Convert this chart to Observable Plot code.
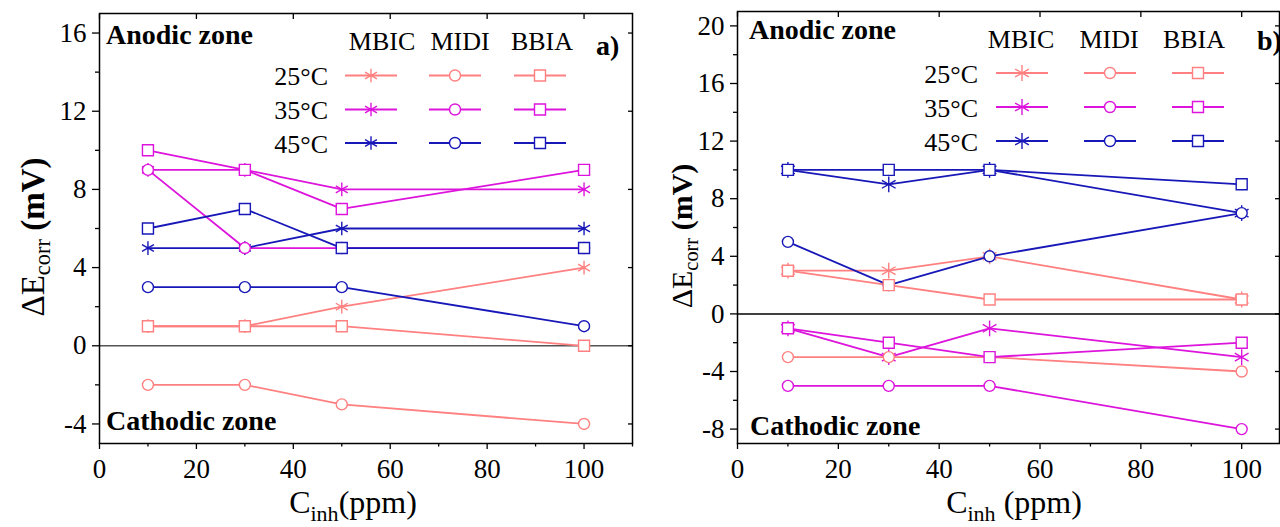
<!DOCTYPE html>
<html><head><meta charset="utf-8">
<script src="https://cdn.jsdelivr.net/npm/d3@7"></script>
<script src="https://cdn.jsdelivr.net/npm/@observablehq/plot@0.6"></script>
<style>
html,body{margin:0;padding:0;background:#fff;}
#wrap{display:flex;width:1280px;height:527px;overflow:hidden;}
#wrap > div{width:640px;height:527px;position:relative;overflow:hidden;}
</style></head><body><div id="wrap"><div id="pa"></div><div id="pb"></div></div>
<script>
// ---- data ----
const conc = [10, 30, 50, 100];
const temps = ["25°C", "35°C", "45°C"];
const inhibitors = ["MBIC", "MIDI", "BBIA"];
const tempColors = ["#ff8080", "#dc14dc", "#1818b8"];
const inhSymbols = ["asterisk", "circle", "square"];

// panel a)
const a25_MBIC = [1, 1, 2, 4];
const a25_MIDI = [-2, -2, -3, -4];
const a25_BBIA = [1, 1, 1, 0];
const a35_MBIC = [9, 9, 8, 8];
const a35_MIDI = [9, 5, 5, 5];
const a35_BBIA = [10, 9, 7, 9];
const a45_MBIC = [5, 5, 6, 6];
const a45_MIDI = [3, 3, 3, 1];
const a45_BBIA = [6, 7, 5, 5];

// panel b)
const b25_MBIC = [3, 3, 4, 1];
const b25_MIDI = [-3, -3, -3, -4];
const b25_BBIA = [3, 2, 1, 1];
const b35_MBIC = [-1, -3, -1, -3];
const b35_MIDI = [-5, -5, -5, -8];
const b35_BBIA = [-1, -2, -3, -2];
const b45_MBIC = [10, 9, 10, 7];
const b45_MIDI = [5, 2, 4, 7];
const b45_BBIA = [10, 10, 10, 9];

const xMajor = [0, 20, 40, 60, 80, 100];
const xMinor = [10, 30, 50, 70, 90, 110];
const aYMajor = [-4, 0, 4, 8, 12, 16];
const aYMinor = [-2, 2, 6, 10, 14];
const bYMajor = [-8, -4, 0, 4, 8, 12, 16, 20];
const bYMinor = [-6, -2, 2, 6, 10, 14, 18];

const seriesA = [
  ["25°C","MBIC",a25_MBIC],["25°C","MIDI",a25_MIDI],["25°C","BBIA",a25_BBIA],
  ["35°C","MBIC",a35_MBIC],["35°C","MIDI",a35_MIDI],["35°C","BBIA",a35_BBIA],
  ["45°C","MBIC",a45_MBIC],["45°C","MIDI",a45_MIDI],["45°C","BBIA",a45_BBIA]];
const seriesB = [
  ["25°C","MBIC",b25_MBIC],["25°C","MIDI",b25_MIDI],["25°C","BBIA",b25_BBIA],
  ["35°C","MBIC",b35_MBIC],["35°C","MIDI",b35_MIDI],["35°C","BBIA",b35_BBIA],
  ["45°C","MBIC",b45_MBIC],["45°C","MIDI",b45_MIDI],["45°C","BBIA",b45_BBIA]];

function toRows(series) {
  return series.flatMap(([temp, inh, vals]) =>
    vals.map((v, i) => ({temp, inh, key: temp + inh, x: conc[i], y: v})));
}

const FONT = "'Liberation Serif', 'Times New Roman', serif";

function makePlot(rows, cfg) {
  const symR = {asterisk: cfg.rAst, circle: 5.5, square: 6.2};
  const marks = [
    Plot.ruleY([0], {stroke: cfg.zeroColor, strokeWidth: 1.5}),
    Plot.line(rows, {x: "x", y: "y", z: "key", stroke: "temp", strokeWidth: 1.8})
  ];
  inhibitors.forEach((inh, k) => {
    marks.push(Plot.dot(rows.filter(d => d.inh === inh), {
      x: "x", y: "y", stroke: "temp", fill: "white",
      symbol: () => inhSymbols[k], r: symR[inhSymbols[k]], strokeWidth: 1.4
    }));
  });
  marks.push(
    Plot.frame({stroke: "black", strokeWidth: 1.5}),
    Plot.axisX({ticks: xMajor, tickSize: 6, tickPadding: 9, tickFormat: d => String(d), label: null, strokeWidth: 1.3}),
    Plot.axisX({ticks: xMinor, tickSize: 3.5, tickFormat: () => "", label: null, strokeWidth: 1.3}),
    Plot.axisX({anchor: "top", ticks: xMajor, tickSize: -5, tickFormat: () => "", label: null, strokeWidth: 1.3}),
    Plot.axisY({ticks: cfg.yMajor, tickSize: 7, tickPadding: 6, tickFormat: d => String(d), label: null, strokeWidth: 1.3}),
    Plot.axisY({ticks: cfg.yMinor, tickSize: 4, tickFormat: () => "", label: null, strokeWidth: 1.3}),
    Plot.axisY({anchor: "right", ticks: cfg.yMajor, tickSize: -5, tickFormat: () => "", label: null, strokeWidth: 1.3})
  );
  return Plot.plot({
    width: 640, height: 527,
    marginLeft: cfg.ml, marginRight: cfg.mr, marginTop: cfg.mt, marginBottom: 84,
    x: {domain: cfg.xDomain},
    y: {domain: cfg.yDomain},
    color: {domain: temps, range: tempColors},
    style: {fontFamily: FONT, fontSize: "27px", background: "white", color: "black", overflow: "visible"},
    marks
  });
}

function annotate(plot, a) {
  const svg = d3.select(plot);
  const g = svg.append("g").style("font-family", FONT).attr("fill", "black");
  // zone labels
  g.append("text").attr("x", a.anodic[0]).attr("y", a.anodic[1]).attr("text-anchor", "start")
    .attr("font-size", 28).attr("font-weight", "bold").text("Anodic zone");
  g.append("text").attr("x", a.cathodic[0]).attr("y", a.cathodic[1]).attr("text-anchor", "start")
    .attr("font-size", 28).attr("font-weight", "bold").text("Cathodic zone");
  g.append("text").attr("x", a.tag[0]).attr("y", a.tag[1]).attr("text-anchor", "start")
    .attr("font-size", 28).attr("font-weight", "bold").text(a.tagText);
  // legend headers
  inhibitors.forEach((inh, k) => {
    g.append("text").attr("x", a.colX[k]).attr("y", a.headY)
      .attr("text-anchor", "middle").attr("font-size", 26).text(inh);
  });
  temps.forEach((t, j) => {
    const ry = a.rowY[j];
    g.append("text").attr("x", a.rowLabelX).attr("y", ry + 9.5)
      .attr("text-anchor", "end").attr("font-size", 26).text(t);
    inhibitors.forEach((inh, k) => {
      const cx = a.lineX[k];
      g.append("line").attr("x1", cx - 26).attr("x2", cx + 26).attr("y1", ry).attr("y2", ry)
        .attr("stroke", tempColors[j]).attr("stroke-width", 1.8);
      const sym = inhSymbols[k];
      const r = sym === "asterisk" ? a.rAst : sym === "circle" ? 5.5 : 6.2;
      const d3sym = sym === "asterisk" ? d3.symbolAsterisk : sym === "circle" ? d3.symbolCircle : d3.symbolSquare;
      g.append("path").attr("d", d3.symbol(d3sym, r * r * Math.PI)())
        .attr("transform", `translate(${cx},${ry})`)
        .attr("fill", "white").attr("stroke", tempColors[j]).attr("stroke-width", 1.4);
    });
  });
  // y-axis title
  const yt = g.append("text").attr("transform", `translate(${a.yTitle[0]},${a.yTitle[1]}) rotate(-90)`)
    .attr("text-anchor", "middle").attr("font-size", a.titleSize);
  yt.append("tspan").text("ΔE");
  yt.append("tspan").attr("font-size", a.titleSize * 0.68).attr("dy", 6).text("corr");
  yt.append("tspan").attr("dy", -6).attr("font-weight", "bold").text(" (mV)");
  // x-axis title
  const xt = g.append("text").attr("x", a.xTitle[0]).attr("y", a.xTitle[1])
    .attr("text-anchor", "middle").attr("font-size", 32);
  xt.append("tspan").text("C");
  xt.append("tspan").attr("font-size", 22).attr("dy", 8).text("inh");
  xt.append("tspan").attr("dy", -8).text(a.xUnit);
}

const pa = makePlot(toRows(seriesA), {
  ml: 99, mr: 8, mt: 13, xDomain: [0, 110], yDomain: [-5, 17],
  yMajor: aYMajor, yMinor: aYMinor, zeroColor: "#555", rAst: 6.5
});
annotate(pa, {
  anodic: [106, 44], cathodic: [106, 430], tag: [596, 55], tagText: "a)",
  colX: [382, 460, 542], headY: 50, rowY: [75.5, 109.5, 143], rowLabelX: 328,
  lineX: [371, 455, 540], rAst: 6.5,
  yTitle: [44, 237], titleSize: 33, xTitle: [353, 513], xUnit: "(ppm)"
});
document.getElementById("pa").appendChild(pa);

const pb = makePlot(toRows(seriesB), {
  ml: 97, mr: 1, mt: 11, xDomain: [0, 107.5], yDomain: [-9, 21],
  yMajor: bYMajor, yMinor: bYMinor, zeroColor: "#000", rAst: 7.5
});
annotate(pb, {
  anodic: [109, 39], cathodic: [110, 435], tag: [617, 50], tagText: "b)",
  colX: [381, 469, 554], headY: 48, rowY: [73, 107, 141], rowLabelX: 338,
  lineX: [382, 470, 558], rAst: 7.5,
  yTitle: [52, 236], titleSize: 30, xTitle: [374, 513], xUnit: " (ppm)"
});
document.getElementById("pb").appendChild(pb);
</script>
</body></html>
